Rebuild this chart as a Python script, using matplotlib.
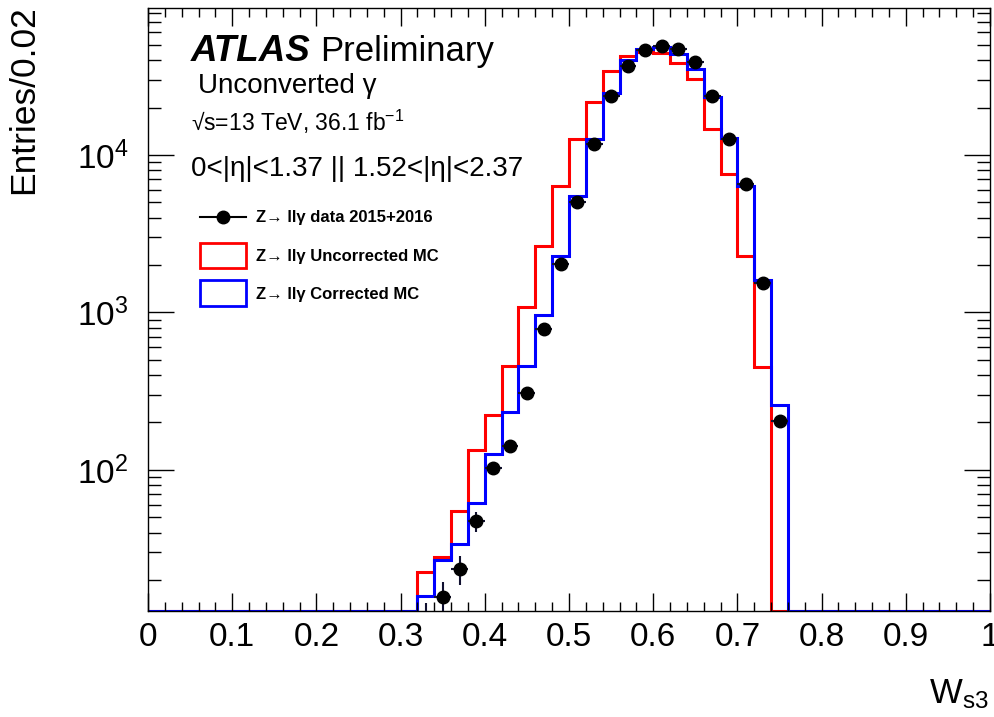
import numpy as np
import matplotlib.pyplot as plt
from matplotlib.patches import Rectangle
from matplotlib.lines import Line2D
from matplotlib.ticker import MultipleLocator, LogLocator, NullFormatter

plt.rcParams['font.family'] = ['Liberation Sans', 'DejaVu Sans']
plt.rcParams['mathtext.fontset'] = 'custom'
plt.rcParams['mathtext.rm'] = 'Liberation Sans'
plt.rcParams['mathtext.it'] = 'Liberation Sans:italic'
plt.rcParams['mathtext.bf'] = 'Liberation Sans:bold'

#%% data (bins of 0.02, first filled bin starts at 0.32)
bin_width = 0.02
first_edge = 0.32

uncorrected_mc = [22.6, 27.9, 54.9, 134, 223, 459, 1089, 2655, 6383, 12580,
                  21800, 33900, 42350, 45290, 44650, 38550, 30250, 14620,
                  7543, 2284, 449]
corrected_mc = [15.9, 26.8, 33.9, 61.5, 126, 234, 457, 964, 2284, 5520,
                12580, 24870, 40090, 47230, 48740, 43590, 35150, 23450,
                12760, 6383, 1607, 259]
data_2015_2016 = [11, 15.5, 23.4, 47.5, 102.5, 142, 307, 785, 2023, 5052,
                  11700, 23700, 36560, 46420, 49200, 46900, 38800, 23590,
                  12640, 6570, 1532, 205]

ymin, ymax = 12.7, 85700

#%%
W, H = 994, 717
fig = plt.figure(figsize=(W / 100, H / 100), dpi=100)
ax = fig.add_axes([148 / W, 1 - 611 / H, (990 - 148) / W, (611 - 8) / H])

edges = np.round(np.arange(0, 1 + bin_width / 2, bin_width), 4)

def full_hist(vals):
    h = np.zeros(len(edges) - 1)
    i0 = int(round(first_edge / bin_width))
    h[i0:i0 + len(vals)] = vals
    # empty bins sit on the bottom of the frame, like ROOT draws them
    return np.where(h > 0, h, ymin)

ax.stairs(full_hist(uncorrected_mc), edges, color='#ff0000', lw=2.2, baseline=None)
ax.stairs(full_hist(corrected_mc), edges, color='#0000ff', lw=2.2, baseline=None)

data = np.array(data_2015_2016, dtype=float)
centers = first_edge + bin_width * (np.arange(len(data)) + 0.5)
ax.errorbar(centers, data, yerr=np.sqrt(data), xerr=bin_width / 2, fmt='o',
            color='black', ecolor='#101030', ms=9, elinewidth=1.5, capsize=0, zorder=5)

ax.set_yscale('log')
ax.set_xlim(0, 1)
ax.set_ylim(ymin, ymax)

ax.xaxis.set_major_locator(MultipleLocator(0.1))
ax.xaxis.set_minor_locator(MultipleLocator(0.02))
ax.xaxis.set_major_formatter(plt.FuncFormatter(lambda v, p: '%g' % round(v, 2)))
ax.yaxis.set_major_locator(LogLocator(base=10, numticks=10))
ax.yaxis.set_minor_locator(LogLocator(base=10, subs=np.arange(2, 10), numticks=20))
ax.yaxis.set_minor_formatter(NullFormatter())

ax.tick_params(axis='both', which='both', direction='in', top=True, right=True,
               width=1.0, labelsize=24)
ax.tick_params(axis='x', which='major', length=13, pad=8)
ax.tick_params(axis='x', which='minor', length=6.5)
ax.tick_params(axis='y', which='major', length=18.5, pad=14)
ax.tick_params(axis='y', which='minor', length=9.3)
for s in ax.spines.values():
    s.set_linewidth(1.0)

def fx(px):
    return px / W

def fy(py):
    return 1 - py / H

# axis titles (ROOT style, at the end of the axes)
fig.text(fx(24), fy(5), 'Entries/0.02', rotation=90, ha='center', va='top', fontsize=25.5)
fig.text(fx(989), fy(703), r'W$_{\mathrm{s3}}$', ha='right', va='baseline', fontsize=25)

# labels
fig.text(fx(191), fy(61), 'ATLAS', fontsize=26.5, fontweight='bold', fontstyle='italic', va='baseline')
fig.text(fx(320), fy(61), 'Preliminary', fontsize=25, va='baseline')
fig.text(fx(198), fy(93), 'Unconverted γ', fontsize=20, va='baseline')
fig.text(fx(191), fy(131), '√s=13 TeV, 36.1 fb$^{\\mathrm{-1}}$', fontsize=16.5, va='baseline')
fig.text(fx(191), fy(176), '0<|η|<1.37 || 1.52<|η|<2.37', fontsize=20, va='baseline')

# legend
fig.add_artist(Line2D([fx(200), fx(246)], [fy(217), fy(217)], color='black', lw=1.5))
fig.add_artist(Line2D([fx(223)], [fy(217)], marker='o', color='black', ms=9))
fig.add_artist(Rectangle((fx(200), fy(268)), fx(46), 25 / H, fill=False,
                         edgecolor='#ff0000', lw=2.0))
fig.add_artist(Rectangle((fx(200), fy(306)), fx(46), 26 / H, fill=False,
                         edgecolor='#0000ff', lw=2.0))
fig.text(fx(256), fy(222.5), 'Z→ llγ data 2015+2016', fontsize=12, fontweight='bold', va='baseline')
fig.text(fx(256), fy(261.5), 'Z→ llγ Uncorrected MC', fontsize=12, fontweight='bold', va='baseline')
fig.text(fx(256), fy(299), 'Z→ llγ Corrected MC', fontsize=12, fontweight='bold', va='baseline')

fig.savefig('out.png', dpi=100)
